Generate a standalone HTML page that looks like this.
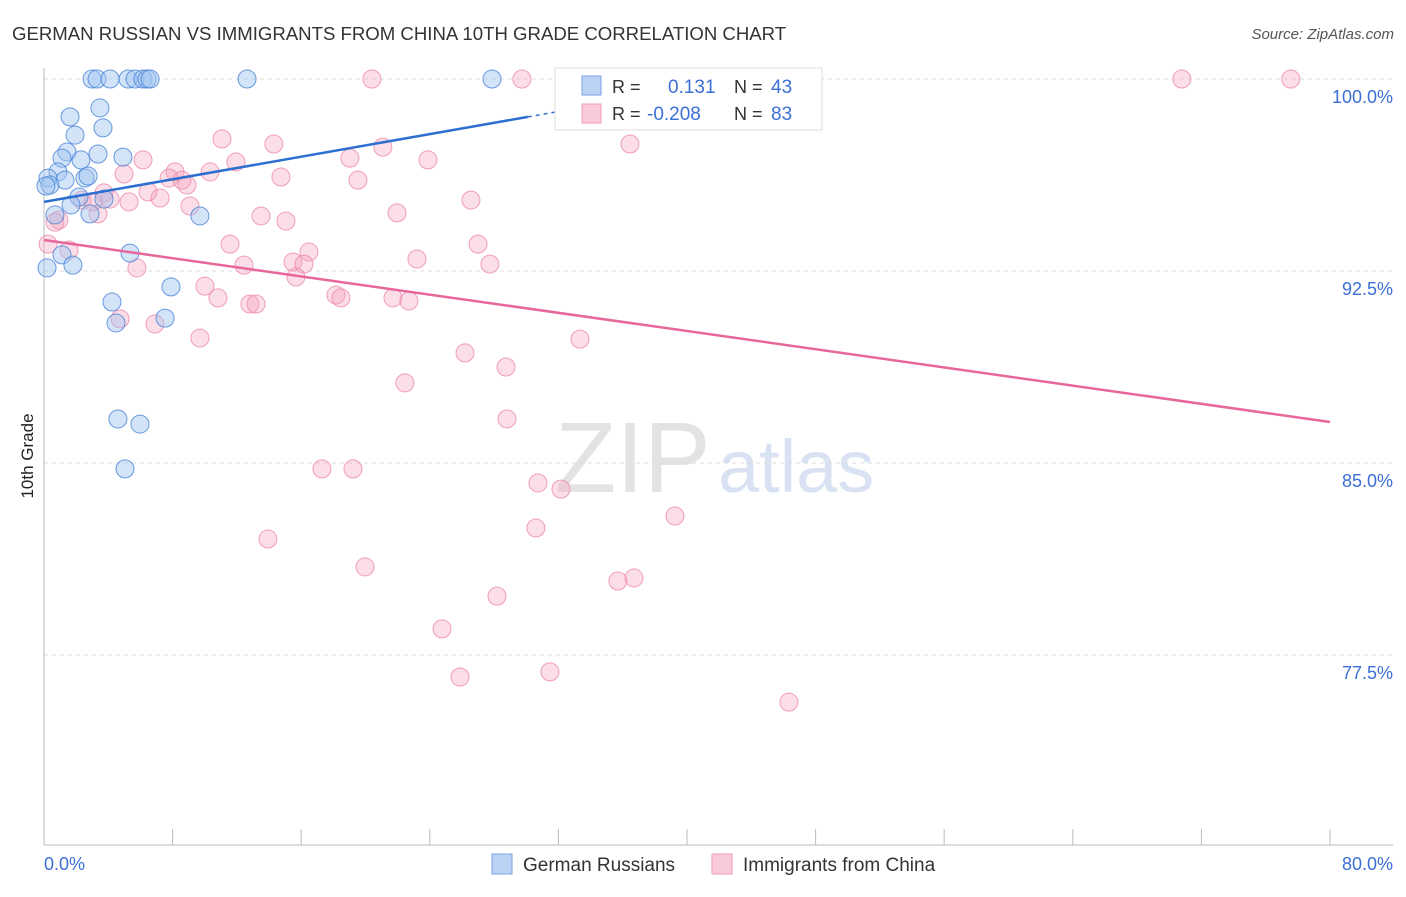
<!DOCTYPE html>
<html><head><meta charset="utf-8"><style>
body{margin:0;background:#fff;font-family:"Liberation Sans",sans-serif}
svg text{font-family:"Liberation Sans",sans-serif}
</style></head><body>
<svg id="c" width="1406" height="892" viewBox="0 0 1406 892">
<text x="12" y="40" font-size="18.6" fill="#333">GERMAN RUSSIAN VS IMMIGRANTS FROM CHINA 10TH GRADE CORRELATION CHART</text>
<text x="1394" y="39" font-size="15" fill="#555" font-style="italic" text-anchor="end">Source: ZipAtlas.com</text>
<text x="0" y="0" transform="translate(33,456) rotate(-90)" font-size="17" fill="#222" text-anchor="middle">10th Grade</text>
<g><text x="555" y="492" font-size="100" fill="#ddd" font-family="Liberation Serif" opacity="0.8">ZIP</text><text x="718" y="492" font-size="74" fill="#cfdcf0" opacity="0.8">atlas</text></g>
<g id="grid"></g><g id="axes"></g><g id="pts"></g><g id="lines"></g>
<g>
<rect x="555" y="68" width="267" height="62" fill="#fff" stroke="#ddd"/>
<rect x="582" y="76" width="19" height="19" fill="#bcd3f5" stroke="#7aa3e5"/>
<rect x="582" y="104" width="19" height="19" fill="#f9cbd9" stroke="#f09bb6"/>
<text x="612" y="93" font-size="18" fill="#333">R =</text><text x="668" y="93" font-size="19" fill="#3b6fd6">0.131</text>
<text x="734" y="93" font-size="18" fill="#333">N =</text><text x="771" y="93" font-size="19" fill="#3b6fd6">43</text>
<text x="612" y="120" font-size="18" fill="#333">R =</text><text x="647" y="120" font-size="19" fill="#3b6fd6">-0.208</text>
<text x="734" y="120" font-size="18" fill="#333">N =</text><text x="771" y="120" font-size="19" fill="#3b6fd6">83</text>
</g>
<g>
<rect x="492" y="854" width="20" height="20" fill="#bcd3f5" stroke="#7aa3e5"/>
<text x="523" y="871" font-size="19" fill="#333">German Russians</text>
<rect x="712" y="854" width="20" height="20" fill="#f9cbd9" stroke="#f09bb6"/>
<text x="743" y="871" font-size="19" fill="#333">Immigrants from China</text>
</g>
</svg>
<script>
const yTicks=[100,92.5,85,77.5];
const yTickLabels=["100.0%","92.5%","85.0%","77.5%"];
const xEnds=["0.0%","80.0%"];
const blueX=[2.99,3.30,4.11,5.23,5.66,6.16,6.41,6.60,12.63,27.87,1.62,3.48,3.67,1.93,1.43,1.12,2.30,3.36,4.91,0.87,0.25,1.31,2.55,2.74,0.37,0.12,2.18,3.73,1.68,0.68,2.86,9.70,1.12,5.35,1.80,0.19,7.90,4.23,7.53,4.48,4.60,5.97,5.04];
const blueY=[100,100,100,100,100,100,100,100,100,100,98.52,98.87,98.09,97.81,97.15,96.91,96.84,97.07,96.95,96.37,96.13,96.05,96.13,96.21,95.86,95.82,95.39,95.31,95.08,94.69,94.73,94.65,93.13,93.20,92.73,92.62,91.88,91.29,90.66,90.47,86.72,86.52,84.77];
const pinkX=[20.40,29.73,32.90,70.78,77.56,11.07,14.30,21.08,36.45,6.16,19.03,23.88,11.94,8.15,4.98,7.78,14.74,10.33,8.58,8.89,19.53,6.47,3.73,2.37,3.05,7.22,5.29,4.11,9.08,26.56,3.36,13.50,15.05,21.96,0.93,0.68,11.57,27.00,1.56,16.48,0.25,12.44,15.49,16.17,23.20,27.74,5.78,15.67,10.01,10.82,18.16,18.47,12.81,13.19,21.71,22.70,4.73,6.90,9.70,33.34,26.19,28.74,22.45,28.80,17.29,19.22,30.73,32.16,39.25,30.60,13.93,19.97,36.70,35.70,28.18,24.76,25.88,31.47,46.34];
const pinkY=[100,100,100,100,100,97.66,97.46,97.34,97.46,96.84,96.91,96.84,96.76,96.37,96.29,96.13,96.17,96.37,96.05,95.86,96.05,95.59,95.55,95.27,95.20,95.35,95.20,95.31,95.04,95.27,94.73,94.65,94.45,94.77,94.49,94.41,93.55,93.55,93.32,93.24,93.55,92.73,92.85,92.77,92.97,92.77,92.62,92.27,91.91,91.45,91.56,91.45,91.21,91.21,91.45,91.33,90.63,90.43,89.88,89.84,89.30,88.75,88.13,86.72,84.77,84.77,84.22,83.98,82.93,82.46,82.03,80.94,80.51,80.39,79.80,78.52,76.64,76.84,75.66];
const blueTrend=[95.2,98.52];const blueTrendX=[0,30.1];
const pinkTrend=[93.71,86.6];const pinkTrendX=[0,80];
const NS="http://www.w3.org/2000/svg";
const X=v=>44+v*(1286/80), Y=v=>79+(100-v)*25.6;
function mk(t,a,p){const e=document.createElementNS(NS,t);for(const k in a)e.setAttribute(k,a[k]);p.appendChild(e);return e;}
const grid=document.getElementById('grid'),axes=document.getElementById('axes'),pts=document.getElementById('pts'),lines=document.getElementById('lines');
yTicks.forEach((t,i)=>{
 const l=mk('line',{x1:44,x2:1393,y1:Y(t),y2:Y(t),stroke:'#ddd','stroke-dasharray':'4,4'},grid);
 
 
 const tx=mk('text',{x:1393,y:Y(t)+24,'font-size':18,fill:'#3b6fd6','text-anchor':'end'},axes);tx.textContent=yTickLabels[i];
 
 
});
const ya=mk('line',{x1:44,x2:44,y1:68,y2:845,stroke:'#bbb'},axes);


const xa=mk('line',{x1:44,x2:1393,y1:845,y2:845,stroke:'#bbb'},axes);


for(let v=0;v<=80;v+=8){const tk=mk('line',{x1:X(v),x2:X(v),y1:829,y2:845,stroke:'#bbb'},axes);
 
 }
const xl0=mk('text',{x:44,y:870,'font-size':18,fill:'#3b6fd6'},axes);xl0.textContent=xEnds[0];


const xl1=mk('text',{x:1393,y:870,'font-size':18,fill:'#3b6fd6','text-anchor':'end'},axes);xl1.textContent=xEnds[1];


pinkX.forEach((v,i)=>{const c=mk('circle',{cx:X(v),cy:Y(pinkY[i]),r:9,fill:'rgba(244,160,188,0.35)',stroke:'rgba(236,130,165,0.75)','stroke-width':1},pts);
 
 });
blueX.forEach((v,i)=>{const c=mk('circle',{cx:X(v),cy:Y(blueY[i]),r:9,fill:'rgba(160,195,240,0.45)',stroke:'rgba(70,130,215,0.8)','stroke-width':1},pts);
 
 });
const bl=mk('line',{x1:X(blueTrendX[0]),y1:Y(blueTrend[0]),x2:X(blueTrendX[1]),y2:Y(blueTrend[1]),stroke:'#2d6fd1','stroke-width':2.5},lines);


const sl=(blueTrend[1]-blueTrend[0])/(blueTrendX[1]-blueTrendX[0]);
const bd=mk('line',{x1:X(blueTrendX[1]),y1:Y(blueTrend[1]),x2:X(33),y2:Y(blueTrend[1]+sl*(33-blueTrendX[1])),stroke:'#2d6fd1','stroke-width':1.5,'stroke-dasharray':'4,4'},lines);


const pl=mk('line',{x1:X(pinkTrendX[0]),y1:Y(pinkTrend[0]),x2:X(pinkTrendX[1]),y2:Y(pinkTrend[1]),stroke:'#e8679a','stroke-width':2.5},lines);


</script>
</body></html>
